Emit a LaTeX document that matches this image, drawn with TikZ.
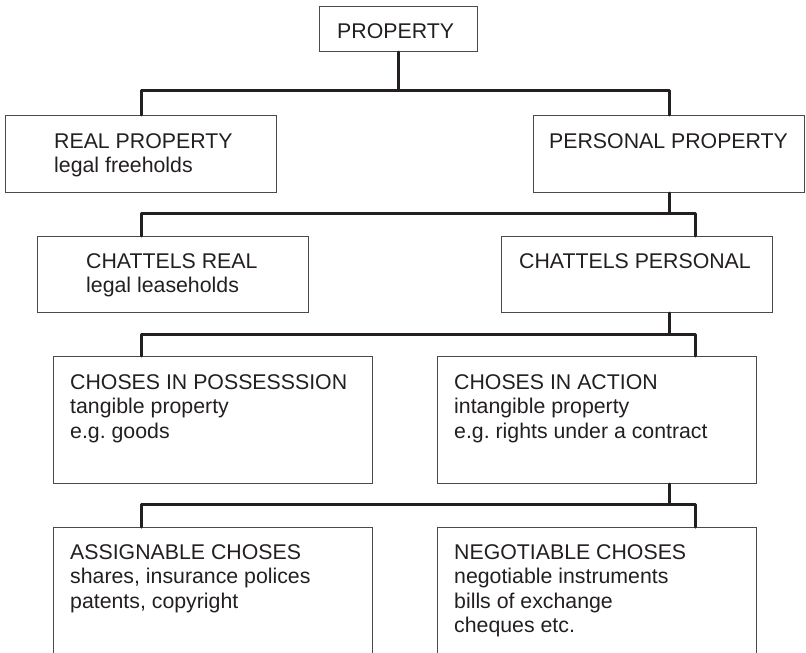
\documentclass[tikz,border=0pt]{standalone}
\usepackage{fontspec}
\setmainfont{Liberation Sans}
\frenchspacing
\begin{document}
\begin{tikzpicture}[x=1pt,y=-1pt,
  box/.style={draw=boxgray, line width=1.1pt, anchor=north west, inner sep=0pt},
  txt/.style={anchor=base west, align=left, inner sep=0pt, text=ink,
    font=\fontsize{21.3}{24.5}\selectfont\frenchspacing},
  conn/.style={draw=ink, line width=3pt, line join=round, line cap=round}]
\definecolor{ink}{HTML}{231F20}
\definecolor{boxgray}{HTML}{4A4A4A}
\useasboundingbox (0,0) rectangle (806,653);
\clip (0,0) rectangle (806,653);
% boxes
\node[box, minimum width=158, minimum height=45] (prop) at (319,6) {};
\node[box, minimum width=271, minimum height=77] (real) at (5,115) {};
\node[box, minimum width=271, minimum height=77] (pers) at (533,115) {};
\node[box, minimum width=271, minimum height=76] (chreal) at (37,236) {};
\node[box, minimum width=271, minimum height=76] (chpers) at (501,236) {};
\node[box, minimum width=319, minimum height=127] (poss) at (53,356) {};
\node[box, minimum width=319, minimum height=127] (act) at (437,356) {};
\node[box, minimum width=319, minimum height=160] (assig) at (53,527) {};
\node[box, minimum width=319, minimum height=160] (nego) at (437,527) {};
% texts (anchor = baseline of the last line)
\node[txt] (propt) at (337,38) {PROPERTY};
\node[txt] (realt) at (54,172.5) {REAL PROPERTY\\legal freeholds};
\node[txt] (perst) at (549,148) {PERSONAL PROPERTY};
\node[txt] (chrealt) at (86,292.5) {CHATTELS REAL\\legal leaseholds};
\node[txt] (chperst) at (519,268) {CHATTELS PERSONAL};
\node[txt] (posst) at (70,438) {CHOSES IN POSSESSSION\\tangible property\\e.g. goods};
\node[txt] (actt) at (454,438) {CHOSES IN ACTION\\intangible property\\e.g. rights under a contract};
\node[txt] (assigt) at (70,608) {ASSIGNABLE CHOSES\\shares, insurance polices\\patents, copyright};
\node[txt] (negot) at (454,632.5) {NEGOTIABLE CHOSES\\negotiable instruments\\bills of exchange\\cheques etc.};
% bus coordinates
\coordinate (bus1) at (0,90);
\coordinate (bus2) at (0,213);
\coordinate (bus3) at (0,334);
\coordinate (bus4) at (0,504);
\coordinate (c2r) at (695,236);
\coordinate (c3r) at (695,356);
\coordinate (c4r) at (695,527);
% connectors
\draw[conn] (prop.south) -- (prop.south |- bus1);
\draw[conn] (real.north) |- (pers.north |- bus1) -- (pers.north);
\draw[conn] (pers.south) -- (pers.south |- bus2);
\draw[conn] (real.north |- chreal.north) |- (c2r |- bus2) -- (c2r);
\draw[conn] (chpers.south -| pers.south) -- (pers.south |- bus3);
\draw[conn] (real.north |- poss.north) |- (c3r |- bus3) -- (c3r);
\draw[conn] (act.south -| pers.south) -- (pers.south |- bus4);
\draw[conn] (real.north |- assig.north) |- (c4r |- bus4) -- (c4r);
\end{tikzpicture}
\end{document}
